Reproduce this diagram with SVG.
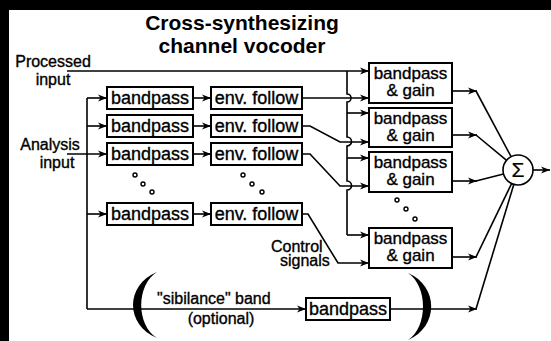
<svg xmlns="http://www.w3.org/2000/svg" width="551" height="341" viewBox="0 0 551 341">
<defs>
<marker id="ah" markerUnits="userSpaceOnUse" markerWidth="10" markerHeight="8" refX="9" refY="4" orient="auto">
<path d="M0,0.5 L9,4 L0,7.5 L2.5,4 Z" fill="#000"/>
</marker>
<style>
.bx{fill:#fff;stroke:#000;stroke-width:2}
.ln{fill:none;stroke:#000;stroke-width:1.6}
.ar{fill:none;stroke:#000;stroke-width:1.6;marker-end:url(#ah)}
.t{font-family:"Liberation Sans",Arial,sans-serif;font-size:18px;fill:#000;stroke:#000;stroke-width:0.35}
.t2{font-family:"Liberation Sans",Arial,sans-serif;font-size:17px;fill:#000;stroke:#000;stroke-width:0.35}
.lb{font-family:"Liberation Sans",Arial,sans-serif;font-size:16px;fill:#000;stroke:#000;stroke-width:0.35}
.ti{font-family:"Liberation Sans",Arial,sans-serif;font-size:21px;font-weight:bold;fill:#000;text-anchor:middle}
.m{text-anchor:middle}
.dot{fill:#fff;stroke:#000;stroke-width:1.4}
</style>
</defs>
<rect x="0" y="0" width="551" height="341" fill="#000"/>
<rect x="9" y="10" width="542" height="331" fill="#fff"/>

<g id="title">
<text class="ti" x="242" y="30">Cross-synthesizing</text>
<text class="ti" x="242" y="53">channel vocoder</text>
</g>

<g id="labels">
<text class="lb m" x="53" y="67">Processed</text>
<text class="lb m" x="53" y="85">input</text>
<text class="lb m" x="50" y="150">Analysis</text>
<text class="lb m" x="57" y="168">input</text>
<text class="lb" x="271" y="252">Control</text>
<text class="lb" x="280" y="266">signals</text>
<text class="lb" x="157" y="304">"sibilance" band</text>
<text class="lb m" x="221" y="324">(optional)</text>
</g>

<g id="connectors">
<path class="ar" d="M67,71 H369"/>
<path class="ln" d="M347,71 V94 A4,4 0 0 1 347,102 V137 A4,4 0 0 1 347,146 V181 A4,4 0 0 1 347,190 V235"/>
<path class="ar" d="M347,113 H369"/>
<path class="ar" d="M347,158 H369"/>
<path class="ar" d="M347,235 H369"/>
<path class="ln" d="M87,98 V309"/>
<path class="ar" d="M87,98 H107"/>
<path class="ar" d="M87,126 H107"/>
<path class="ar" d="M67,154 H107"/>
<path class="ar" d="M87,214 H107"/>
<path class="ar" d="M193,98 H211"/>
<path class="ar" d="M193,126 H211"/>
<path class="ar" d="M193,154 H211"/>
<path class="ar" d="M193,214 H211"/>
<path class="ar" d="M302,98 H369"/>
<path class="ar" d="M302,126 H310 L340,142 H369"/>
<path class="ar" d="M302,154 H310 L340,186 H369"/>
<path class="ar" d="M302,214 H308 L338,263 H369"/>
<path class="ar" d="M87,309 H306"/>
<path class="ar" d="M452,91 H477"/>
<path class="ar" d="M452,135 H477"/>
<path class="ar" d="M452,181 H477"/>
<path class="ar" d="M452,257 H477"/>
<path class="ar" d="M390,309 H477"/>
<path class="ln" d="M476,91 L511.1,156.7"/>
<path class="ln" d="M476,135 L506.6,160.3"/>
<path class="ln" d="M476,181 L503.5,173.9"/>
<path class="ln" d="M476,257 L511.6,183.6"/>
<path class="ln" d="M476,309 L513.8,184.4"/>
<path class="ar" d="M533,170 H550"/>
</g>

<g id="bp1"><rect class="bx" x="107" y="87" width="86" height="22"/><text class="t m" x="150" y="104">bandpass</text></g>
<g id="bp2"><rect class="bx" x="107" y="115" width="86" height="22"/><text class="t m" x="150" y="132">bandpass</text></g>
<g id="bp3"><rect class="bx" x="107" y="143" width="86" height="22"/><text class="t m" x="150" y="160">bandpass</text></g>
<g id="bp4"><rect class="bx" x="107" y="203" width="86" height="22"/><text class="t m" x="150" y="220">bandpass</text></g>

<g id="ef1"><rect class="bx" x="211" y="87" width="91" height="22"/><text class="t m" x="256.5" y="104">env. follow</text></g>
<g id="ef2"><rect class="bx" x="211" y="115" width="91" height="22"/><text class="t m" x="256.5" y="132">env. follow</text></g>
<g id="ef3"><rect class="bx" x="211" y="143" width="91" height="22"/><text class="t m" x="256.5" y="160">env. follow</text></g>
<g id="ef4"><rect class="bx" x="211" y="203" width="91" height="22"/><text class="t m" x="256.5" y="220">env. follow</text></g>

<g id="bg1"><rect class="bx" x="369" y="63" width="83" height="40"/><text class="t2 m" x="410.5" y="79">bandpass</text><text class="t2 m" x="410.5" y="96">&amp; gain</text></g>
<g id="bg2"><rect class="bx" x="369" y="108" width="83" height="39"/><text class="t2 m" x="410.5" y="124">bandpass</text><text class="t2 m" x="410.5" y="141">&amp; gain</text></g>
<g id="bg3"><rect class="bx" x="369" y="152" width="83" height="40"/><text class="t2 m" x="410.5" y="168">bandpass</text><text class="t2 m" x="410.5" y="185">&amp; gain</text></g>
<g id="bg4"><rect class="bx" x="369" y="228" width="83" height="40"/><text class="t2 m" x="410.5" y="244">bandpass</text><text class="t2 m" x="410.5" y="261">&amp; gain</text></g>

<g id="sib"><rect class="bx" x="306" y="298" width="84" height="22"/><text class="t m" x="348" y="315">bandpass</text></g>

<g id="sum"><circle cx="518" cy="170" r="15" fill="#fff" stroke="#000" stroke-width="1.6"/><text class="t m" x="518" y="177" style="font-size:21px;stroke-width:0.2">Σ</text></g>

<g id="dots">
<circle class="dot" cx="135" cy="175" r="2"/><circle class="dot" cx="143" cy="184" r="2"/><circle class="dot" cx="152" cy="192" r="2"/>
<circle class="dot" cx="243" cy="175" r="2"/><circle class="dot" cx="252" cy="184" r="2"/><circle class="dot" cx="262" cy="192" r="2"/>
<circle class="dot" cx="397" cy="200" r="2"/><circle class="dot" cx="406" cy="209" r="2"/><circle class="dot" cx="415" cy="219" r="2"/>
</g>

<g id="parens">
<path d="M157,272 C125,285 125,325 157,338 C136,325 136,285 157,272 Z" fill="#000"/>
<path d="M408,273 C439,286 439,327 408,340 C428,327 428,286 408,273 Z" fill="#000"/>
</g>
</svg>
